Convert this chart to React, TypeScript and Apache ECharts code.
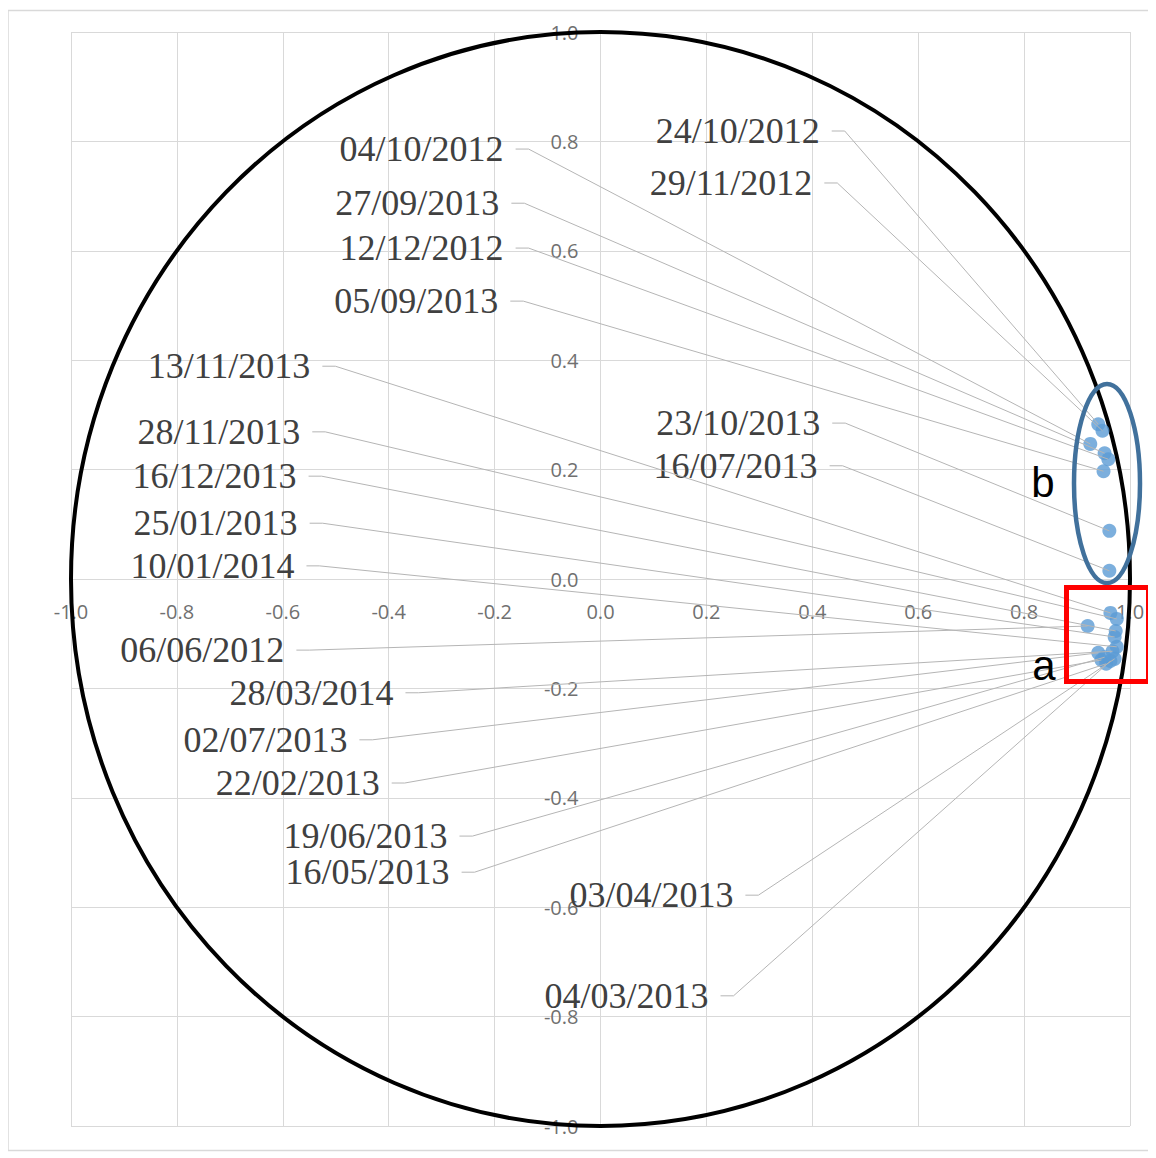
import React, { useEffect, useRef } from "react";
import * as echarts from "echarts";

// Dates (data labels)
const dates = [
  "24/10/2012", "29/11/2012", "04/10/2012", "27/09/2013", "12/12/2012", "05/09/2013",
  "23/10/2013", "16/07/2013",
  "13/11/2013", "28/11/2013", "16/12/2013", "25/01/2013", "10/01/2014", "06/06/2012",
  "28/03/2014", "02/07/2013", "22/02/2013", "19/06/2013", "16/05/2013", "03/04/2013",
  "04/03/2013",
];

// Point coordinates (correlation circle)
const pointX = [
  0.94, 0.948, 0.925, 0.952, 0.959, 0.95, 0.961, 0.961,
  0.963, 0.975, 0.973, 0.971, 0.975, 0.92, 0.967, 0.94, 0.946, 0.952, 0.955, 0.971, 0.963,
];
const pointY = [
  0.283, 0.271, 0.247, 0.23, 0.219, 0.197, 0.088, 0.015,
  -0.062, -0.073, -0.095, -0.106, -0.124, -0.086, -0.132, -0.135, -0.148, -0.143, -0.155, -0.146, -0.15,
];

// Label anchor positions (layout, in axis units: right end / middle of the text)
const labelX = [
  0.414, 0.4, -0.183, -0.191, -0.183, -0.193, 0.415, 0.41,
  -0.548, -0.567, -0.574, -0.572, -0.578, -0.597, -0.391, -0.478, -0.417, -0.289, -0.285, 0.251, 0.204,
];
const labelY = [
  0.819, 0.724, 0.786, 0.687, 0.605, 0.508, 0.285, 0.207,
  0.389, 0.269, 0.188, 0.102, 0.024, -0.13, -0.208, -0.294, -0.373, -0.47, -0.536, -0.578, -0.762,
];

const axisMin = -1;
const axisMax = 1;
const axisStep = 0.2;

const GRID = { left: 63, top: 24, right: 26, bottom: 32 };
const CHART_W = 1148;
const CHART_H = 1150;

export default function App() {
  const ref = useRef<HTMLDivElement>(null);

  useEffect(() => {
    if (!ref.current) return;
    const chart = echarts.init(ref.current, undefined, { renderer: "svg" });

    const scatterData = pointX.map((x, i) => [x, pointY[i]]);
    const labelData = pointX.map((x, i) => [x, pointY[i], labelX[i], labelY[i], i]);

    const gridW = CHART_W - GRID.left - GRID.right;
    const gridH = CHART_H - GRID.top - GRID.bottom;
    // offset of each axis so that it sits at the other's zero
    const xOffset = -gridH * ((0 - axisMin) / (axisMax - axisMin));
    const yOffset = -gridW * ((0 - axisMin) / (axisMax - axisMin));

    const axisCommon = {
      type: "value" as const,
      min: axisMin,
      max: axisMax,
      interval: axisStep,
      axisTick: { show: false },
      splitLine: { show: true, lineStyle: { color: "#d9d9d9", width: 1 } },
    };
    const labelCommon = {
      show: true,
      showMinLabel: true,
      showMaxLabel: true,
      formatter: (v: number) => v.toFixed(1),
      color: "#707070",
      fontSize: 20,
      fontFamily: "Open Sans",
      margin: 22,
    };

    chart.setOption({
      animation: false,
      backgroundColor: "#ffffff",
      grid: { ...GRID, outerBoundsMode: "none" },
      xAxis: {
        ...axisCommon,
        position: "bottom",
        offset: xOffset,
        axisLine: { show: true, onZero: false, lineStyle: { color: "#d9d9d9", width: 1 } },
        axisLabel: labelCommon,
      },
      yAxis: {
        ...axisCommon,
        position: "left",
        offset: yOffset,
        axisLine: { show: true, onZero: false, lineStyle: { color: "#d9d9d9", width: 1 } },
        axisLabel: labelCommon,
      },
      series: [
        {
          type: "custom",
          name: "circle",
          clip: false,
          z: 1,
          data: [[0, 0]],
          silent: true,
          renderItem: (params: any, api: any) => {
            const c = api.coord([0, 0]);
            const r = api.coord([1, 1]);
            return {
              type: "ellipse",
              shape: { cx: c[0], cy: c[1], rx: r[0] - c[0], ry: c[1] - r[1] },
              style: { stroke: "#000000", lineWidth: 4, fill: "none" },
            };
          },
        },
        {
          type: "scatter",
          name: "points",
          z: 2,
          symbol: "circle",
          symbolSize: 14,
          itemStyle: { color: "#5b9bd5" },
          data: scatterData,
        },
        {
          type: "custom",
          name: "labels",
          clip: false,
          z: 3,
          silent: true,
          data: labelData,
          renderItem: (params: any, api: any) => {
            const p = api.coord([api.value(0), api.value(1)]);
            const a = api.coord([api.value(2), api.value(3)]);
            const idx = api.value(4);
            return {
              type: "group",
              children: [
                {
                  type: "polyline",
                  shape: {
                    points: [
                      [a[0] + 12, a[1]],
                      [a[0] + 25, a[1]],
                      [p[0], p[1]],
                    ],
                  },
                  style: { stroke: "#b5b5b5", lineWidth: 1, fill: "none" },
                },
                {
                  type: "text",
                  style: {
                    text: dates[idx],
                    x: a[0],
                    y: a[1],
                    align: "right",
                    verticalAlign: "middle",
                    fontSize: 36,
                    fontFamily: "Liberation Serif",
                    fill: "#404040",
                  },
                },
              ],
            };
          },
        },
      ],
      graphic: [
        {
          type: "rect",
          silent: true,
          z: 0,
          shape: { x: 0, y: 2.5, width: 1146, height: 1140 },
          style: { stroke: "#d9d9d9", lineWidth: 1.5, fill: "none" },
        },
        {
          type: "ellipse",
          silent: true,
          z: 10,
          shape: { cx: 1099, cy: 475.5, rx: 33, ry: 99.5 },
          style: { stroke: "#41719c", lineWidth: 4.5, fill: "none" },
        },
        {
          type: "rect",
          silent: true,
          z: 10,
          shape: { x: 1058.5, y: 579.5, width: 82, height: 94 },
          style: { stroke: "#ff0000", lineWidth: 5, fill: "none" },
        },
        {
          type: "text",
          silent: true,
          z: 10,
          style: {
            text: "a",
            x: 1036,
            y: 657,
            align: "center",
            verticalAlign: "middle",
            fontSize: 42,
            fontFamily: "Liberation Sans",
            fill: "#000000",
          },
        },
        {
          type: "text",
          silent: true,
          z: 10,
          style: {
            text: "b",
            x: 1035,
            y: 474,
            align: "center",
            verticalAlign: "middle",
            fontSize: 42,
            fontFamily: "Liberation Sans",
            fill: "#000000",
          },
        },
      ],
    });

    return () => chart.dispose();
  }, []);

  return <div ref={ref} style={{ width: CHART_W, height: CHART_H }} />;
}
